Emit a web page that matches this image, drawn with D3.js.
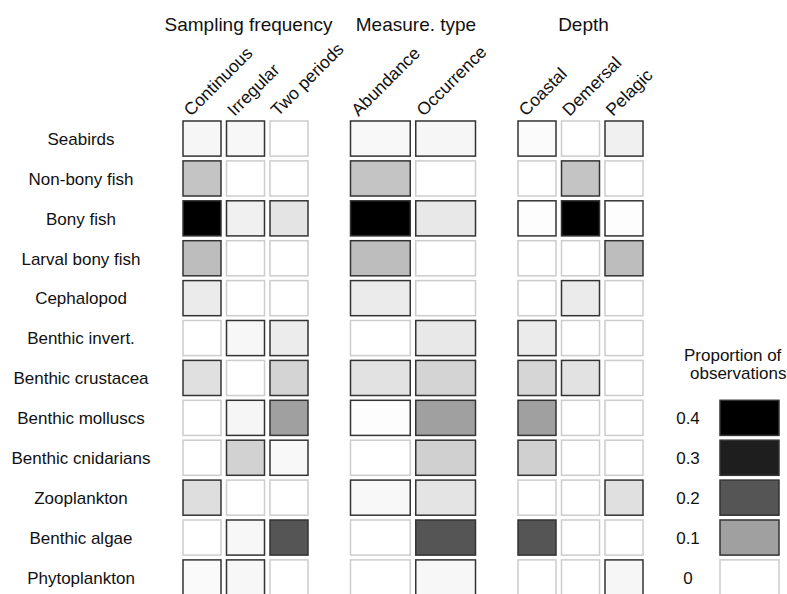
<!DOCTYPE html>
<html>
<head>
<meta charset="utf-8">
<script src="https://cdn.jsdelivr.net/npm/d3@7"></script>
<style>
  html, body { margin: 0; padding: 0; background: #fff; }
  svg { display: block; font-family: "Liberation Sans", Arial, sans-serif; }
</style>
</head>
<body>
<svg id="chart" width="787" height="594"></svg>
<script>
// ---------------- data ----------------
const categories = ["Seabirds", "Non-bony fish", "Bony fish", "Larval bony fish", "Cephalopod",
  "Benthic invert.", "Benthic crustacea", "Benthic molluscs", "Benthic cnidarians",
  "Zooplankton", "Benthic algae", "Phytoplankton"];
const groups = ["Sampling frequency", "Measure. type", "Depth"];
const samplingCols = ["Continuous", "Irregular", "Two periods"];
const measureCols = ["Abundance", "Occurrence"];
const depthCols = ["Coastal", "Demersal", "Pelagic"];

const continuous = [0.010, 0.062, 0.40, 0.069, 0.021, 0, 0.033, 0, 0, 0.035, 0, 0.005];
const irregular  = [0.008, 0, 0.016, 0, 0, 0.008, 0, 0.010, 0.047, 0, 0.008, 0.008];
const twoPeriods = [0, 0, 0.028, 0, 0, 0.020, 0.045, 0.10, 0.007, 0, 0.20, 0];
const abundance  = [0.007, 0.062, 0.40, 0.069, 0.021, 0, 0.031, 0.002, 0, 0.007, 0, 0];
const occurrence = [0.010, 0, 0.024, 0, 0, 0.024, 0.045, 0.10, 0.049, 0.028, 0.20, 0.008];
const coastal    = [0.004, 0, 0.002, 0, 0, 0.021, 0.043, 0.10, 0.049, 0, 0.20, 0];
const demersal   = [0, 0.062, 0.40, 0, 0.021, 0, 0.031, 0, 0, 0, 0, 0];
const pelagic    = [0.016, 0, 0.002, 0.069, 0, 0, 0, 0, 0, 0.033, 0, 0.010];

const legendValues = [0.4, 0.3, 0.2, 0.1, 0];
const legendLabels = ["0.4", "0.3", "0.2", "0.1", "0"];
const legendTitle = ["Proportion of", "observations"];

// ---------------- assemble ----------------
const groupCols = {
  "Sampling frequency": samplingCols,
  "Measure. type": measureCols,
  "Depth": depthCols
};
const colValues = {
  "Continuous": continuous, "Irregular": irregular, "Two periods": twoPeriods,
  "Abundance": abundance, "Occurrence": occurrence,
  "Coastal": coastal, "Demersal": demersal, "Pelagic": pelagic
};

const svg = d3.select("#chart");
const textColor = "#111";

// scales
const step = 39.9;
const y = d3.scaleBand()
  .domain(categories)
  .range([118.6, 118.6 + categories.length * step])
  .paddingInner(0.12)
  .paddingOuter(0.06);

const gx = d3.scaleBand()
  .domain(groups)
  .range([183, 643])
  .paddingInner(42.5 / 167.5)
  .paddingOuter(0);

const gap = 5.5;
const innerX = {};
groups.forEach(g => {
  const cols = groupCols[g];
  const W = gx.bandwidth();
  const n = cols.length;
  const p = n > 1 ? gap * n / (W + gap) : 0;
  innerX[g] = d3.scaleBand().domain(cols)
    .range([gx(g), gx(g) + W]).paddingInner(p).paddingOuter(0);
});

const color = d3.scaleLinear()
  .domain([0, 0.1, 0.2, 0.3, 0.4])
  .range(["#ffffff", "#a0a0a0", "#555555", "#1e1e1e", "#000000"])
  .clamp(true);

const strokeFor = v => v > 0 ? "#333333" : "#cccccc";

// group titles
svg.append("g").selectAll("text").data(groups).join("text")
  .attr("x", g => gx(g) + gx.bandwidth() / 2 + 3)
  .attr("y", 31)
  .attr("text-anchor", "middle")
  .attr("font-size", 19)
  .attr("fill", textColor)
  .text(g => g);

// column labels (rotated)
const colLabelData = groups.flatMap(g => groupCols[g].map(c => ({ g, c })));
svg.append("g").selectAll("text").data(colLabelData).join("text")
  .attr("transform", d => `translate(${innerX[d.g](d.c) + 8},117) rotate(-45)`)
  .attr("font-size", 17.5)
  .attr("fill", textColor)
  .text(d => d.c);

// row labels
svg.append("g").selectAll("text").data(categories).join("text")
  .attr("x", 81)
  .attr("y", d => y(d) + y.bandwidth() / 2)
  .attr("dy", "0.37em")
  .attr("text-anchor", "middle")
  .attr("font-size", 17)
  .attr("fill", textColor)
  .text(d => d);

// cells
const cells = [];
groups.forEach(g => groupCols[g].forEach(c => categories.forEach((cat, i) => {
  cells.push({ g, c, cat, v: colValues[c][i] });
})));
svg.append("g").selectAll("rect").data(cells).join("rect")
  .attr("x", d => innerX[d.g](d.c))
  .attr("y", d => y(d.cat))
  .attr("width", d => innerX[d.g].bandwidth())
  .attr("height", y.bandwidth())
  .attr("fill", d => color(d.v))
  .attr("stroke", d => strokeFor(d.v))
  .attr("stroke-width", 1.5);

// legend
const ly = d3.scaleBand()
  .domain(legendValues)
  .range([y(categories[7]) - step * 0.06, y(categories[7]) - step * 0.06 + legendValues.length * step])
  .paddingInner(0.12)
  .paddingOuter(0.06);
const legendX = 720, legendW = 59;
const lg = svg.append("g");
lg.selectAll("rect").data(legendValues).join("rect")
  .attr("x", legendX)
  .attr("y", d => ly(d))
  .attr("width", legendW)
  .attr("height", ly.bandwidth())
  .attr("fill", d => color(d))
  .attr("stroke", d => strokeFor(d))
  .attr("stroke-width", 1.5);
lg.selectAll("text.lab").data(legendValues).join("text")
  .attr("class", "lab")
  .attr("x", 688)
  .attr("y", d => ly(d) + ly.bandwidth() / 2)
  .attr("dy", "0.37em")
  .attr("text-anchor", "middle")
  .attr("font-size", 17)
  .attr("fill", textColor)
  .text((d, i) => legendLabels[i]);
lg.selectAll("text.title").data(legendTitle).join("text")
  .attr("class", "title")
  .attr("x", (d, i) => i === 0 ? 684 : 690)
  .attr("y", (d, i) => 361 + i * 17.5)
  .attr("font-size", 17)
  .attr("fill", textColor)
  .text(d => d);
</script>
</body>
</html>
